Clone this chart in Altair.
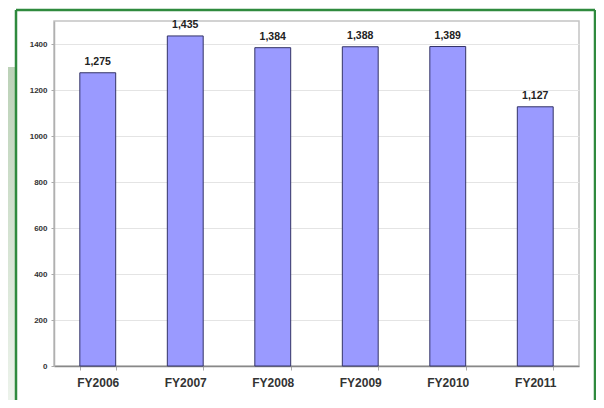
import altair as alt
import pandas as pd

years = ["FY2006", "FY2007", "FY2008", "FY2009", "FY2010", "FY2011"]
values = [1275, 1435, 1384, 1388, 1389, 1127]
labels = ["1,275", "1,435", "1,384", "1,388", "1,389", "1,127"]
y_ticks = [0, 200, 400, 600, 800, 1000, 1200, 1400]

df = pd.DataFrame({"year": years, "value": values, "label": labels})

x_enc = alt.X(
    "year:N",
    sort=years,
    title=None,
    scale=alt.Scale(paddingInner=0.59, paddingOuter=0.295),
    axis=alt.Axis(
        labelAngle=0,
        labelFont="Liberation Sans",
        labelFontWeight="bold",
        labelFontSize=12,
        labelColor="#333333",
        labelPadding=7,
        tickBand="extent",
        tickSize=4,
        tickColor="#aaaaaa",
        domainColor="#888888",
        domainWidth=1.5,
        grid=False,
    ),
)
y_enc = alt.Y(
    "value:Q",
    title=None,
    scale=alt.Scale(domain=[0, 1500], nice=False),
    axis=alt.Axis(
        values=y_ticks,
        format="d",
        labelFont="Liberation Sans",
        labelFontWeight="bold",
        labelFontSize=8,
        labelColor="#333333",
        labelPadding=4,
        tickSize=3,
        tickColor="#aaaaaa",
        domainColor="#b0b0b0",
        domainWidth=1.5,
        gridColor="#e4e4e4",
        gridWidth=1,
    ),
)

one = alt.Data(values=[{"k": 1}])

strip = alt.Chart(one).mark_rect(
    fill=alt.Gradient(
        gradient="linear",
        stops=[
            alt.GradientStop(color="#bcd2b8", offset=0),
            alt.GradientStop(color="#eef4ed", offset=1),
        ],
        x1=0, x2=0, y1=0, y2=1,
    )
).encode(x=alt.value(-46), x2=alt.value(-39), y=alt.value(46), y2=alt.value(390))

border_style = dict(color="#2f8a3e", strokeWidth=2.5)
border_left = alt.Chart(one).mark_rule(**border_style).encode(
    x=alt.value(-38), y=alt.value(-11), y2=alt.value(400)
)
border_top = alt.Chart(one).mark_rule(**border_style).encode(
    x=alt.value(-38), x2=alt.value(541), y=alt.value(-11)
)
border_right = alt.Chart(one).mark_rule(**border_style).encode(
    x=alt.value(541), y=alt.value(-11), y2=alt.value(400)
)

bars = alt.Chart(df).mark_bar(
    color="#9a9aff", stroke="#333366", strokeWidth=1
).encode(x=x_enc, y=y_enc)

text = alt.Chart(df).mark_text(
    baseline="bottom",
    dy=-6,
    font="Liberation Sans",
    fontWeight="bold",
    fontSize=10.5,
    color="#222222",
).encode(x=alt.X("year:N", sort=years), y="value:Q", text="label:N")

chart = (
    alt.layer(strip, border_left, border_top, border_right, bars, text)
    .properties(
        width=525,
        height=345,
        padding={"left": 46, "top": 13, "right": 17, "bottom": 34},
        autosize=alt.AutoSizeParams(type="none"),
        background="white",
    )
    .configure_view(stroke="#c4c4c4", strokeWidth=1.5, fill="white")
)

chart.save("out.html", embed_options={"renderer": "svg", "actions": False})
